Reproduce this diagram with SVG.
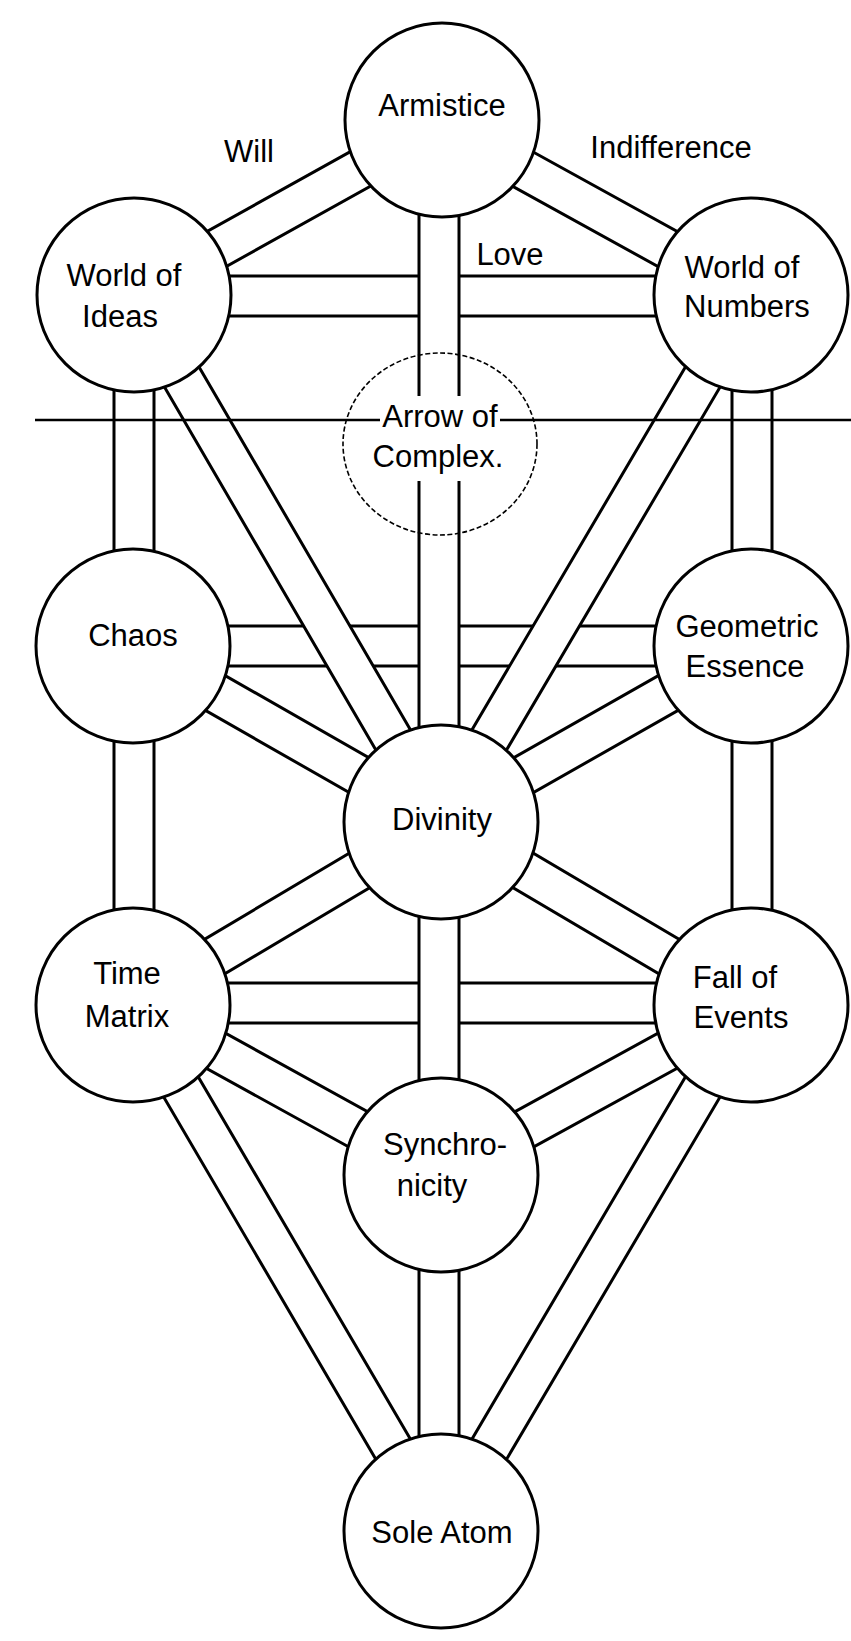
<svg xmlns="http://www.w3.org/2000/svg" width="851" height="1641" viewBox="0 0 851 1641">
<style>
.bf{fill:#fff;stroke:none}
.bl{stroke:#000;stroke-width:3;fill:none}
.node circle{fill:#fff;stroke:#000;stroke-width:3}
.dash{fill:none;stroke:#000;stroke-width:1.6;stroke-dasharray:5 2.5}
text{font-family:"Liberation Sans",Arial,sans-serif;font-size:31px;fill:#000;text-anchor:middle}
</style>
<rect x="0" y="0" width="851" height="1641" fill="#fff"/>
<g id="connectors">
  <!-- horizontal paths -->
  <g id="p-ideas-numbers"><rect class="bf" x="134" y="276" width="617" height="40"/><path class="bl" d="M134,276H751M134,316H751"/></g>
  <g id="p-chaos-geometric"><rect class="bf" x="133" y="626" width="618" height="40"/><path class="bl" d="M133,626H751M133,666H751"/></g>
  <g id="p-time-fall"><rect class="bf" x="133" y="983" width="618" height="40"/><path class="bl" d="M133,983H751M133,1023H751"/></g>
  <!-- diagonal paths -->
  <g id="p-ideas-armistice" transform="translate(134,295) rotate(-29.11)"><rect class="bf" x="0" y="-20" width="351.4" height="40"/><path class="bl" d="M0,-20H351.4M0,20H351.4"/></g>
  <g id="p-armistice-numbers" transform="translate(441,124) rotate(28.88)"><rect class="bf" x="0" y="-20" width="354" height="40"/><path class="bl" d="M0,-20H354M0,20H354"/></g>
  <g id="p-ideas-divinity" transform="translate(134,295) rotate(59.78)"><rect class="bf" x="0" y="-20" width="609.9" height="40"/><path class="bl" d="M0,-20H609.9M0,20H609.9"/></g>
  <g id="p-numbers-divinity" transform="translate(751,295) rotate(120.47)"><rect class="bf" x="0" y="-20" width="611.4" height="40"/><path class="bl" d="M0,-20H611.4M0,20H611.4"/></g>
  <g id="p-chaos-divinity" transform="translate(133,646) rotate(29.74)"><rect class="bf" x="0" y="-20" width="354.7" height="40"/><path class="bl" d="M0,-20H354.7M0,20H354.7"/></g>
  <g id="p-geometric-divinity" transform="translate(751,646) rotate(150.41)"><rect class="bf" x="0" y="-20" width="356.5" height="40"/><path class="bl" d="M0,-20H356.5M0,20H356.5"/></g>
  <g id="p-divinity-time" transform="translate(441,822) rotate(149.28)"><rect class="bf" x="0" y="-20" width="358.3" height="40"/><path class="bl" d="M0,-20H358.3M0,20H358.3"/></g>
  <g id="p-divinity-fall" transform="translate(441,822) rotate(30.55)"><rect class="bf" x="0" y="-20" width="360" height="40"/><path class="bl" d="M0,-20H360M0,20H360"/></g>
  <g id="p-time-synchro" transform="translate(133,1005) rotate(28.9)"><rect class="bf" x="0" y="-20" width="351.8" height="40"/><path class="bl" d="M0,-20H351.8M0,20H351.8"/></g>
  <g id="p-fall-synchro" transform="translate(751,1005) rotate(151.26)"><rect class="bf" x="0" y="-20" width="353.6" height="40"/><path class="bl" d="M0,-20H353.6M0,20H353.6"/></g>
  <g id="p-time-sole" transform="translate(133,1005) rotate(59.65)"><rect class="bf" x="0" y="-20" width="609.5" height="40"/><path class="bl" d="M0,-20H609.5M0,20H609.5"/></g>
  <g id="p-fall-sole" transform="translate(751,1005) rotate(120.51)"><rect class="bf" x="0" y="-20" width="610.6" height="40"/><path class="bl" d="M0,-20H610.6M0,20H610.6"/></g>
  <!-- vertical paths -->
  <g id="p-armistice-divinity"><rect class="bf" x="419" y="120" width="40" height="702"/><path class="bl" d="M419,120V822M459,120V822"/></g>
  <g id="p-ideas-chaos"><rect class="bf" x="114" y="295" width="40" height="351"/><path class="bl" d="M114,295V646M154,295V646"/></g>
  <g id="p-numbers-geometric"><rect class="bf" x="732" y="295" width="40" height="351"/><path class="bl" d="M732,295V646M772,295V646"/></g>
  <g id="p-chaos-time"><rect class="bf" x="114" y="646" width="40" height="359"/><path class="bl" d="M114,646V1005M154,646V1005"/></g>
  <g id="p-geometric-fall"><rect class="bf" x="732" y="646" width="40" height="359"/><path class="bl" d="M732,646V1005M772,646V1005"/></g>
  <g id="p-divinity-synchro"><rect class="bf" x="419" y="822" width="40" height="353"/><path class="bl" d="M419,822V1175M459,822V1175"/></g>
  <g id="p-synchro-sole"><rect class="bf" x="419" y="1175" width="40" height="356"/><path class="bl" d="M419,1175V1531M459,1175V1531"/></g>
</g>
<line id="abyss-line" x1="35" y1="420" x2="851" y2="420" stroke="#000" stroke-width="2.5"/>
<g id="labels">
  <text x="249" y="162">Will</text>
  <text x="671" y="158">Indifference</text>
  <text x="510" y="265">Love</text>
</g>
<g id="n-arrow" class="node">
  <ellipse class="dash" cx="440" cy="444" rx="97" ry="91"/>
  <rect x="380" y="396" width="120" height="85" fill="#fff"/>
  <text x="440" y="427">Arrow of</text>
  <text x="438" y="467">Complex.</text>
</g>
<g id="n-armistice" class="node"><circle cx="442" cy="120" r="97"/><text x="442" y="116">Armistice</text></g>
<g id="n-ideas" class="node"><circle cx="134" cy="295" r="97"/><text x="124" y="286">World of</text><text x="120" y="327">Ideas</text></g>
<g id="n-numbers" class="node"><circle cx="751" cy="295" r="97"/><text x="742" y="278">World of</text><text x="747" y="317">Numbers</text></g>
<g id="n-chaos" class="node"><circle cx="133" cy="646" r="97"/><text x="133" y="646">Chaos</text></g>
<g id="n-geometric" class="node"><circle cx="751" cy="646" r="97"/><text x="747" y="637">Geometric</text><text x="745" y="677">Essence</text></g>
<g id="n-divinity" class="node"><circle cx="441" cy="822" r="97"/><text x="442" y="830">Divinity</text></g>
<g id="n-time" class="node"><circle cx="133" cy="1005" r="97"/><text x="127" y="984">Time</text><text x="127" y="1027">Matrix</text></g>
<g id="n-fall" class="node"><circle cx="751" cy="1005" r="97"/><text x="735" y="988">Fall of</text><text x="741" y="1028">Events</text></g>
<g id="n-synchro" class="node"><circle cx="441" cy="1175" r="97"/><text x="445" y="1155">Synchro-</text><text x="432" y="1196">nicity</text></g>
<g id="n-sole" class="node"><circle cx="441" cy="1531" r="97"/><text x="442" y="1543">Sole Atom</text></g>
</svg>
